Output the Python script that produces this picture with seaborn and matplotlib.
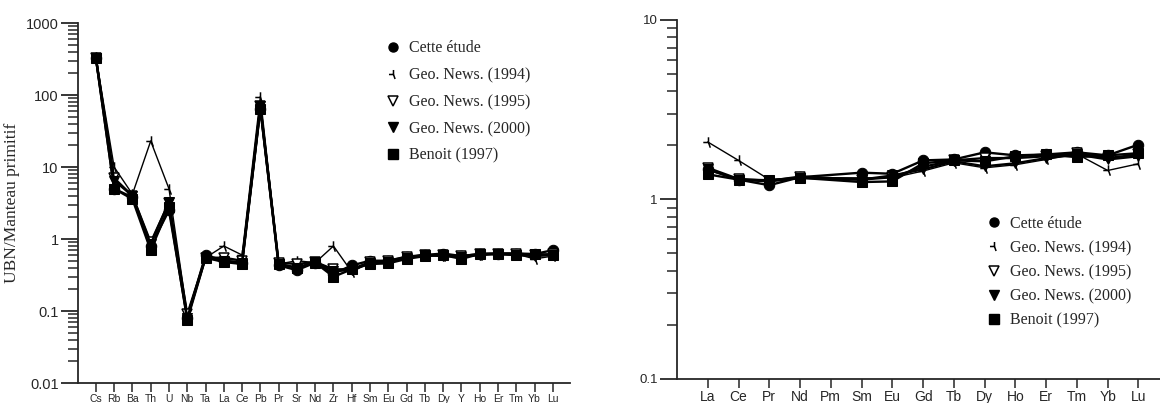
import numpy as np
import pandas as pd
import matplotlib
matplotlib.use("Agg")
import matplotlib.pyplot as plt
import seaborn as sns
from matplotlib.path import Path
from matplotlib.lines import Line2D
from matplotlib.ticker import LogLocator, FuncFormatter, NullFormatter

# Spider diagram (left) - normalised to primitive mantle
SPIDER_ELEMENTS = ['Cs', 'Rb', 'Ba', 'Th', 'U', 'Nb', 'Ta', 'La', 'Ce', 'Pb', 'Pr', 'Sr', 'Nd',
                   'Zr', 'Hf', 'Sm', 'Eu', 'Gd', 'Tb', 'Dy', 'Y', 'Ho', 'Er', 'Tm', 'Yb', 'Lu']
spider_cette = [330, 5.0, 3.8, 0.80, 2.5, 0.080, 0.60, 0.50, 0.47, 65, 0.43, 0.37, 0.47,
                0.33, 0.43, 0.50, 0.50, 0.57, 0.60, 0.63, 0.58, 0.62, 0.63, 0.63, 0.62, 0.70]
spider_gn1994 = [340, 10.0, 4.2, 23, 5.0, 0.090, 0.55, 0.80, 0.60, 95, 0.45, 0.50, 0.47,
                 0.80, 0.35, 0.47, 0.50, 0.55, 0.60, 0.58, 0.58, 0.60, 0.62, 0.62, 0.53, 0.58]
spider_gn1995 = [330, 7.0, 4.0, 0.90, 3.2, 0.090, 0.55, 0.55, 0.50, 70, 0.47, 0.45, 0.48,
                 0.38, 0.38, 0.48, 0.50, 0.56, 0.60, 0.60, 0.58, 0.62, 0.63, 0.63, 0.60, 0.62]
spider_gn2000 = [330, 6.5, 4.0, 0.85, 3.3, 0.080, 0.55, 0.50, 0.47, 70, 0.45, 0.40, 0.48,
                 0.36, 0.37, 0.47, 0.48, 0.55, 0.60, 0.58, 0.57, 0.60, 0.62, 0.60, 0.58, 0.60]
spider_benoit = [330, 5.0, 3.6, 0.70, 2.8, 0.075, 0.55, 0.48, 0.45, 65, 0.45, 0.40, 0.47,
                 0.30, 0.38, 0.45, 0.46, 0.53, 0.58, 0.60, 0.53, 0.62, 0.62, 0.60, 0.62, 0.60]

# REE diagram (right) - Pm not analysed
REE_ELEMENTS = ['La', 'Ce', 'Pr', 'Nd', 'Pm', 'Sm', 'Eu', 'Gd', 'Tb', 'Dy', 'Ho', 'Er', 'Tm', 'Yb', 'Lu']
ree_cette = [1.47, 1.29, 1.20, 1.33, np.nan, 1.41, 1.39, 1.65, 1.67, 1.83, 1.76, 1.78, 1.83, 1.76, 2.02]
ree_gn1994 = [2.09, 1.65, 1.29, 1.32, np.nan, 1.32, 1.32, 1.44, 1.60, 1.50, 1.56, 1.67, 1.79, 1.45, 1.58]
ree_gn1995 = [1.50, 1.30, 1.27, 1.34, np.nan, 1.29, 1.33, 1.52, 1.65, 1.70, 1.70, 1.74, 1.81, 1.70, 1.78]
ree_gn2000 = [1.47, 1.29, 1.26, 1.32, np.nan, 1.29, 1.36, 1.47, 1.63, 1.53, 1.59, 1.70, 1.78, 1.67, 1.74]
ree_benoit = [1.38, 1.29, 1.28, 1.32, np.nan, 1.25, 1.26, 1.59, 1.65, 1.63, 1.74, 1.78, 1.72, 1.76, 1.81]

LABELS = ['Cette étude', 'Geo. News. (1994)', 'Geo. News. (1995)', 'Geo. News. (2000)', 'Benoit (1997)']

# three-armed star used for Geo. News. (1994)
star = Path([(-1, 0), (0, 0), (0, 1), (0, 0), (0, 0), (0.35, -1)],
            [Path.MOVETO, Path.LINETO, Path.MOVETO, Path.LINETO, Path.MOVETO, Path.LINETO])

STYLES = [
    dict(marker='o', markersize=7.5, mfc='black', mec='black', lw=1.7),
    dict(marker=star, markersize=7.5, mfc='none', mec='black', mew=1.1, lw=1.0),
    dict(marker='v', markersize=7, mfc='white', mec='black', mew=1.1, lw=1.7),
    dict(marker='v', markersize=7, mfc='black', mec='black', lw=1.7),
    dict(marker='s', markersize=7.5, mfc='black', mec='black', lw=1.7),
]

sns.set_style('ticks')
plt.rcParams['font.family'] = ['Liberation Sans', 'DejaVu Sans']
SERIF = ['Liberation Serif', 'DejaVu Serif']


def draw(ax, elements, series):
    pos = np.arange(len(elements))
    for vals, label, st in zip(series, LABELS, STYLES):
        df = pd.DataFrame({'x': pos, 'y': vals}).dropna()
        sns.lineplot(data=df, x='x', y='y', ax=ax, color='black', errorbar=None,
                     sort=False, label=label, legend=False, **st)
    ax.set_yscale('log')
    ax.set_xticks(pos)
    ax.set_xticklabels(elements)
    ax.set_xlabel('')
    ax.set_ylabel('')
    ax.yaxis.set_major_formatter(FuncFormatter(lambda v, p: f'{v:g}'))
    ax.yaxis.set_minor_locator(LogLocator(base=10, subs=np.arange(2, 10), numticks=20))
    ax.yaxis.set_minor_formatter(NullFormatter())
    for s in ['top', 'right']:
        ax.spines[s].set_visible(False)
    for s in ['left', 'bottom']:
        ax.spines[s].set_linewidth(1.3)
    ax.tick_params(axis='y', which='major', length=12, width=1.3, direction='out', pad=2)
    ax.tick_params(axis='y', which='minor', length=7, width=1.1, direction='out')
    ax.tick_params(axis='x', which='major', length=6.5, width=1.1, direction='out', pad=1.5)

    handles = [Line2D([], [], linestyle='none', color='black',
                      **{k: v for k, v in st.items() if k not in ('lw', 'markersize')},
                      markersize=6.5) for st in STYLES]
    return handles


fig = plt.figure(figsize=(11.6, 4.03), dpi=100)
ax1 = fig.add_axes([0.0672, 0.0496, 0.424, 0.893])
ax2 = fig.add_axes([0.5836, 0.0596, 0.4164, 0.891])

h = draw(ax1, SPIDER_ELEMENTS, [spider_cette, spider_gn1994, spider_gn1995, spider_gn2000, spider_benoit])
ax1.set_ylim(0.01, 1000)
ax1.set_xlim(-0.98, 25.93)
ax1.tick_params(axis='y', labelsize=10.5)
ax1.tick_params(axis='x', labelsize=7.5)
ax1.set_ylabel('UBN/Manteau primitif', family=SERIF, fontsize=12.5, labelpad=4)
ax1.legend(handles=h, labels=LABELS, loc='upper left', bbox_to_anchor=(0.625, 0.952),
           frameon=False, prop={'family': SERIF, 'size': 11.5}, handlelength=1.0,
           handletextpad=0.5, labelspacing=0.68, borderpad=0, borderaxespad=0)

h = draw(ax2, REE_ELEMENTS, [ree_cette, ree_gn1994, ree_gn1995, ree_gn2000, ree_benoit])
ax2.set_ylim(0.1, 10)
ax2.set_xlim(-1.0, 14.7)
ax2.tick_params(axis='y', labelsize=9.5)
ax2.tick_params(axis='x', labelsize=10)
ax2.legend(handles=h, labels=LABELS, loc='upper left', bbox_to_anchor=(0.64, 0.455),
           frameon=False, prop={'family': SERIF, 'size': 11.5}, handlelength=1.0,
           handletextpad=0.5, labelspacing=0.52, borderpad=0, borderaxespad=0)

fig.savefig('out.png', dpi=100)
